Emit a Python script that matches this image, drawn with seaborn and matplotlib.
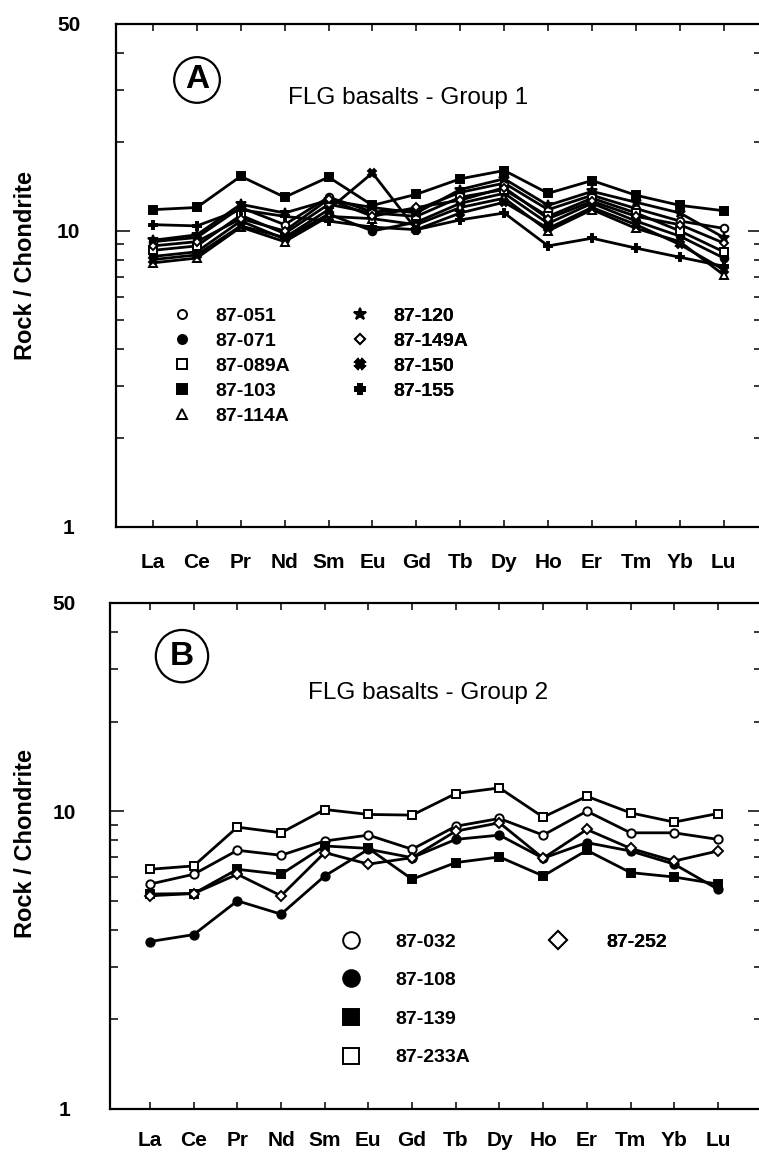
import matplotlib
matplotlib.use("Agg")
import matplotlib.pyplot as plt
from matplotlib.lines import Line2D
from matplotlib.ticker import FixedLocator, NullFormatter
import numpy as np
import pandas as pd
import seaborn as sns

# ---------------------------------------------------------------- data
elements = ["La", "Ce", "Pr", "Nd", "Sm", "Eu", "Gd", "Tb", "Dy", "Ho", "Er", "Tm", "Yb", "Lu"]
y_ticks = [1, 10, 50]
y_tick_labels = ["1", "10", "50"]

# Group 1 basalts, chondrite-normalised REE
g1_names = ["87-051", "87-071", "87-089A", "87-103", "87-114A",
            "87-120", "87-149A", "87-150", "87-155"]
g1_87_051 = [9.2, 9.5, 12.0, 10.5, 13.0, 11.6, 11.8, 13.5, 14.5, 11.8, 13.2, 11.9, 10.8, 10.2]
g1_87_071 = [8.2, 8.5, 10.8, 9.4, 11.4, 10.0, 10.7, 12.4, 13.4, 10.6, 12.4, 10.8, 9.6, 8.1]
g1_87_089A = [8.6, 8.9, 11.3, 9.8, 12.3, 11.5, 11.2, 13.0, 13.8, 11.2, 12.9, 11.5, 10.0, 8.5]
g1_87_103 = [11.8, 12.0, 15.3, 13.0, 15.2, 12.2, 13.3, 15.0, 16.0, 13.4, 14.8, 13.2, 12.2, 11.7]
g1_87_114A = [7.8, 8.1, 10.3, 9.2, 11.2, 11.0, 10.5, 12.0, 12.9, 10.0, 11.8, 10.2, 9.2, 7.1]
g1_87_120 = [9.3, 9.7, 12.3, 11.5, 12.7, 12.0, 11.5, 13.8, 15.0, 12.2, 13.6, 12.5, 11.5, 9.5]
g1_87_149A = [8.9, 9.2, 11.0, 10.0, 12.8, 11.2, 12.0, 12.7, 14.0, 11.0, 12.6, 11.2, 10.5, 9.1]
g1_87_150 = [8.0, 8.3, 10.4, 9.5, 11.8, 15.7, 10.1, 11.5, 12.5, 10.2, 12.0, 10.5, 9.0, 7.4]
g1_87_155 = [10.5, 10.4, 11.8, 11.2, 10.8, 10.3, 10.1, 10.9, 11.5, 8.9, 9.45, 8.75, 8.15, 7.6]
g1_values = [g1_87_051, g1_87_071, g1_87_089A, g1_87_103, g1_87_114A,
             g1_87_120, g1_87_149A, g1_87_150, g1_87_155]

# Group 2 basalts
g2_names = ["87-032", "87-108", "87-139", "87-233A", "87-252"]
g2_87_032 = [5.69, 6.14, 7.39, 7.11, 7.94, 8.31, 7.45, 8.90, 9.45, 8.31, 10.0, 8.46, 8.46, 8.04]
g2_87_108 = [3.65, 3.85, 5.00, 4.51, 6.06, 7.45, 6.98, 8.04, 8.31, 6.95, 7.84, 7.35, 6.64, 5.47]
g2_87_139 = [5.27, 5.29, 6.38, 6.14, 7.64, 7.50, 5.91, 6.72, 7.02, 6.06, 7.39, 6.22, 6.01, 5.69]
g2_87_233A = [6.38, 6.55, 8.84, 8.46, 10.13, 9.75, 9.70, 11.46, 11.97, 9.55, 11.22, 9.87, 9.19, 9.82]
g2_87_252 = [5.20, 5.29, 6.14, 5.20, 7.26, 6.64, 6.98, 8.57, 9.14, 6.95, 8.68, 7.50, 6.80, 7.35]
g2_values = [g2_87_032, g2_87_108, g2_87_139, g2_87_233A, g2_87_252]


def long_table(names, values):
    rows = []
    for name, vals in zip(names, values):
        for i, (el, v) in enumerate(zip(elements, vals)):
            rows.append({"sample": name, "pos": i, "element": el, "ratio": v})
    return pd.DataFrame(rows)


df1 = long_table(g1_names, g1_values)
df2 = long_table(g2_names, g2_values)

# ---------------------------------------------------------------- styles
# marker and whether it is filled
g1_marks = {
    "87-051": ("o", False), "87-071": ("o", True), "87-089A": ("s", False),
    "87-103": ("s", True), "87-114A": ("^", False), "87-120": ("*", True),
    "87-149A": ("D", False), "87-150": ("X", True), "87-155": ("P", True),
}
g2_marks = {
    "87-032": ("o", False), "87-108": ("o", True), "87-139": ("s", True),
    "87-233A": ("s", False), "87-252": ("D", False),
}

sns.set_style("white")
plt.rcParams["font.family"] = ["Liberation Sans", "DejaVu Sans"]
plt.rcParams["text.color"] = "black"
plt.rcParams["axes.labelcolor"] = "black"
plt.rcParams["xtick.color"] = "black"
plt.rcParams["ytick.color"] = "black"

W, H = 759, 1156
fig = plt.figure(figsize=(W / 100, H / 100), dpi=100)


def px_axes(left, top, right, bottom):
    return fig.add_axes([left / W, 1 - bottom / H, (right - left) / W, (bottom - top) / H])


def marker_size(mk, ms):
    return ms * (0.8 if mk == "D" else 1.0) * (1.35 if mk == "*" else 1.0)


def draw_group(ax, df, names, marks, ms):
    for name in names:
        mk, filled = marks[name]
        sns.lineplot(data=df[df["sample"] == name], x="pos", y="ratio", ax=ax,
                     color="black", linewidth=2.0, marker=mk,
                     markersize=marker_size(mk, ms),
                     markerfacecolor="black" if filled else "white",
                     markeredgecolor="black", markeredgewidth=1.4,
                     sort=False, legend=False, errorbar=None)


def style_axes(ax, xlim, ypad, xpad, label_x, label_y):
    ax.set_yscale("log")
    ax.set_ylim(1, 50)
    ax.set_xlim(*xlim)
    ax.set_xticks(range(len(elements)), labels=elements, fontsize=15,
                  fontweight="bold", color="black")
    ax.set_yticks(y_ticks, labels=y_tick_labels, fontsize=15, fontweight="bold",
                  ha="center", color="black")
    ax.yaxis.set_minor_locator(FixedLocator([2, 3, 4, 5, 6, 7, 8, 9, 20, 30, 40]))
    ax.yaxis.set_minor_formatter(NullFormatter())
    ax.tick_params(axis="x", which="major", direction="in", top=True, bottom=True,
                   length=5, width=1.1, pad=xpad, colors="black")
    ax.tick_params(axis="y", which="major", direction="in", left=True, right=True,
                   length=10, width=1.1, pad=ypad, colors="black")
    ax.tick_params(axis="y", which="minor", direction="in", left=True, right=True,
                   length=5.5, width=1.1, colors="black")
    for sp in ax.spines.values():
        sp.set_linewidth(1.6)
        sp.set_color("black")
    ax.set_xlabel("")
    ax.set_ylabel("Rock / Chondrite", fontsize=17, fontweight="bold", color="black")
    ax.yaxis.set_label_coords(label_x, label_y)
    ax.grid(False)


def add_legend(ax, names, marks, anchor, ms, lspace, tpad):
    handles = []
    for name in names:
        mk, filled = marks[name]
        handles.append(Line2D([], [], ls="none", marker=mk, markersize=marker_size(mk, ms),
                              markerfacecolor="black" if filled else "white",
                              markeredgecolor="black", markeredgewidth=1.4))
    leg = ax.legend(handles, names, loc="upper left", bbox_to_anchor=anchor,
                    bbox_transform=ax.transAxes, frameon=False, borderpad=0,
                    borderaxespad=0, handlelength=1.0, handletextpad=tpad,
                    labelspacing=lspace, prop={"weight": "bold", "size": 14})
    for t in leg.get_texts():
        t.set_color("black")
    ax.add_artist(leg)


# ---------------------------------------------------------------- panel A
axA = px_axes(116, 24, 762, 527)
draw_group(axA, df1, g1_names, g1_marks, ms=5.5)
style_axes(axA, (-0.84, 13.87), ypad=34, xpad=19, label_x=-0.122, label_y=0.519)
axA.text(0.1254, 0.8887, "A", transform=axA.transAxes, ha="center", va="center",
         fontsize=24, fontweight="bold", color="black",
         bbox=dict(boxstyle="circle,pad=0.22", fc="white", ec="black", lw=1.6))
axA.text(0.2663, 0.853, "FLG basalts - Group 1", transform=axA.transAxes,
         ha="left", va="center", fontsize=17.5, color="black")
add_legend(axA, g1_names[:5], g1_marks, (0.0867, 0.4374), ms=6.5, lspace=0.38, tpad=1.22)
add_legend(axA, g1_names[5:], g1_marks, (0.3627, 0.4374), ms=6.5, lspace=0.38, tpad=1.22)

# ---------------------------------------------------------------- panel B
axB = px_axes(110, 603, 762, 1109)
draw_group(axB, df2, g2_names, g2_marks, ms=6.0)
style_axes(axB, (-0.916, 14.01), ypad=33, xpad=16, label_x=-0.112, label_y=0.524)
axB.text(0.1104, 0.895, "B", transform=axB.transAxes, ha="center", va="center",
         fontsize=24, fontweight="bold", color="black",
         bbox=dict(boxstyle="circle,pad=0.32", fc="white", ec="black", lw=1.6))
axB.text(0.3037, 0.822, "FLG basalts - Group 2", transform=axB.transAxes,
         ha="left", va="center", fontsize=17.5, color="black")
add_legend(axB, ["87-032", "87-108", "87-139", "87-233A"], g2_marks,
           (0.3543, 0.3478), ms=12, lspace=1.08, tpad=1.78)
add_legend(axB, ["87-252"], g2_marks, (0.6727, 0.3478), ms=12, lspace=1.08, tpad=1.96)

fig.savefig("out.png", dpi=100)
